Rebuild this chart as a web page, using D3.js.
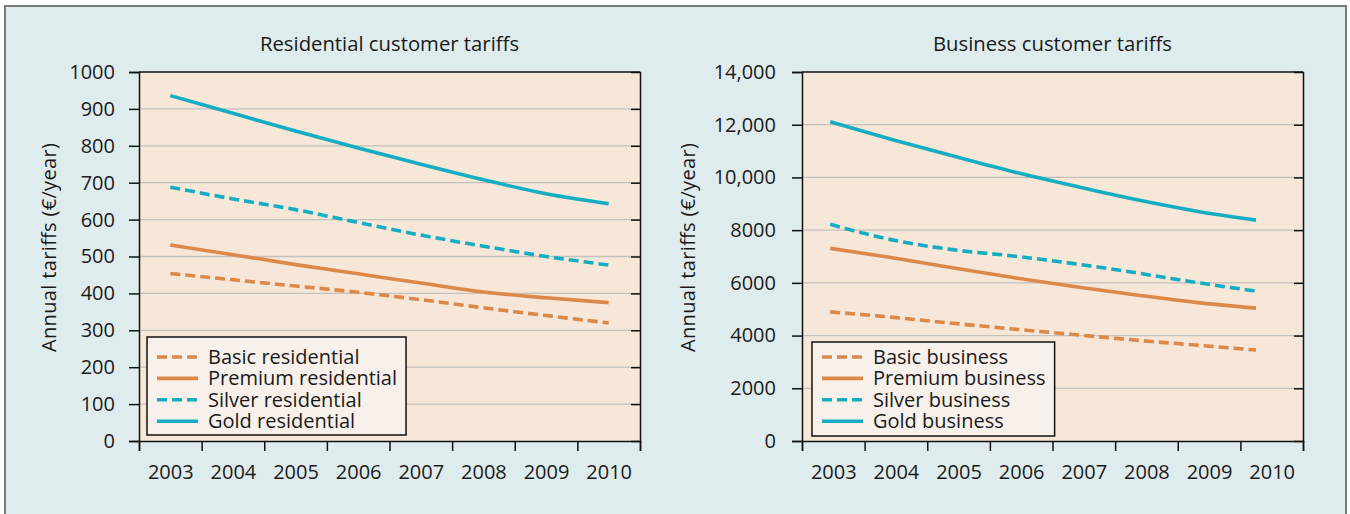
<!DOCTYPE html>
<html>
<head>
<meta charset="utf-8">
<script src="https://cdn.jsdelivr.net/npm/d3@7"></script>
<style>
  body { margin: 0; background: #fff; }
  svg { display: block; font-family: "Open Sans", sans-serif; }
</style>
</head>
<body>
<svg id="main" width="1350" height="514"></svg>
<script>
// tick labels
var years = [2003, 2004, 2005, 2006, 2007, 2008, 2009, 2010]
var yearEdges = [2002.5, 2003.5, 2004.5, 2005.5, 2006.5, 2007.5, 2008.5, 2009.5, 2010.5]
var resTicks = [0, 100, 200, 300, 400, 500, 600, 700, 800, 900, 1000]
var bizTicks = [0, 2000, 4000, 6000, 8000, 10000, 12000, 14000]

// x positions of the points (business lines stop short of 2010)
var resYears = [2003, 2004, 2005, 2006, 2007, 2008, 2009, 2010]
var bizYears = [2002.95, 2003.92, 2004.9, 2005.87, 2006.84, 2007.81, 2008.78, 2009.75]

// residential tariffs, euro/year
var basicRes = [454, 437, 420, 403, 383, 361, 340, 320]
var premiumRes = [531, 505, 478, 453, 428, 404, 388, 375]
var silverRes = [688, 656, 627, 592, 558, 528, 500, 477]
var goldRes = [936, 888, 840, 794, 750, 708, 670, 643]

// business tariffs, euro/year
var basicBiz = [4900, 4700, 4470, 4250, 4040, 3830, 3640, 3450]
var premiumBiz = [7310, 6960, 6570, 6200, 5860, 5550, 5260, 5040]
var silverBiz = [8220, 7640, 7260, 7020, 6730, 6390, 6020, 5690]
var goldBiz = [12110, 11450, 10820, 10220, 9680, 9170, 8730, 8380]

var ORANGE = "#dc8849"
var TEAL = "#15adc2"
var INK = "#1a1a1a"

var svg = d3.select("#main")

// outer panel
svg.append("rect").attr("x", 5).attr("y", 6).attr("width", 1341).attr("height", 520)
    .attr("fill", "#dfeced").attr("stroke", "#7a7a7a").attr("stroke-width", 2)

function drawChart(opt) {
    var w = opt.width, h = 369
    var g = svg.append("g").attr("transform", "translate(" + opt.left + "," + opt.top + ")")
    var x = d3.scaleLinear().domain([2002.5, 2010.5]).range([0, w])
    var y = d3.scaleLinear().domain([0, opt.max]).range([h, 0])

    g.append("rect").attr("width", w).attr("height", h).attr("fill", "#f7e7d9")

    // gridlines
    g.selectAll(".grid").data(opt.ticks.slice(1, -1)).enter().append("line")
        .attr("x1", 0).attr("x2", w)
        .attr("y1", function(d) { return y(d) }).attr("y2", function(d) { return y(d) })
        .attr("stroke", "#c4c0bc").attr("stroke-width", 1.3)

    // frame top
    g.append("line").attr("x1", 0).attr("x2", w).attr("y1", 0).attr("y2", 0)
        .attr("stroke", "#111").attr("stroke-width", 1.5)

    var yl = g.append("g").call(d3.axisLeft(y).tickValues(opt.ticks).tickSize(10).tickPadding(opt.pad)
        .tickFormat(opt.fmt))
    var yr = g.append("g").attr("transform", "translate(" + w + ",0)")
        .call(d3.axisRight(y).tickValues(opt.ticks).tickSize(-9).tickFormat(""))
    var xb = g.append("g").attr("transform", "translate(0," + h + ")")
        .call(d3.axisBottom(x).tickValues(yearEdges).tickSize(10).tickFormat(""))
    var xl = g.append("g").attr("transform", "translate(0," + h + ")")
        .call(d3.axisBottom(x).tickValues(years).tickSize(0).tickPadding(24).tickFormat(d3.format("d")))
    xl.select(".domain").remove()
    ;[yl, yr, xb, xl].forEach(function(a) {
        a.selectAll("path,line").attr("stroke", "#111").attr("stroke-width", 1.5)
        a.selectAll("text").attr("fill", INK).style("font-size", "20px")
            .style("font-family", '"Open Sans", sans-serif')
    })
    yr.selectAll(".tick").filter(function(d) { return d == 0 || d == opt.max }).remove()

    // lines
    var line = d3.line()
        .x(function(d) { return x(d[0]) })
        .y(function(d) { return y(d[1]) })
        .curve(d3.curveMonotoneX)
    opt.series.forEach(function(s) {
        g.append("path").datum(d3.zip(opt.xs, s.values))
            .attr("d", line).attr("fill", "none")
            .attr("stroke", s.color).attr("stroke-width", 3.6)
            .attr("stroke-dasharray", s.dash ? "10,5" : null)
    })

    // titles
    g.append("text").attr("x", w / 2).attr("y", -21).attr("text-anchor", "middle")
        .attr("fill", INK).style("font-size", "20.3px").text(opt.title)
    g.append("text").attr("transform", "translate(" + opt.ylabX + "," + (h / 2 - 9) + ") rotate(-90)")
        .attr("text-anchor", "middle").attr("fill", INK).style("font-size", "20px")
        .attr("textLength", 209).attr("lengthAdjust", "spacing")
        .text("Annual tariffs (€/year)")

    // legend
    var lg = g.append("g").attr("transform", "translate(" + opt.legX + "," + opt.legY + ")")
    var box = lg.append("rect").attr("fill", "#f8f0ea").attr("stroke", "#111").attr("stroke-width", 1.5)
    var maxW = 0
    opt.series.forEach(function(s, i) {
        var yy = 285 - opt.legY + i * 21.4
        lg.append("line").attr("x1", 10).attr("x2", 51).attr("y1", yy).attr("y2", yy)
            .attr("stroke", s.color).attr("stroke-width", 3.6)
            .attr("stroke-dasharray", s.dash ? "10,5" : null)
        var t = lg.append("text").attr("x", 61).attr("y", yy + 7).attr("fill", INK)
            .style("font-size", "20px").text(s.name)
        maxW = Math.max(maxW, t.node().getComputedTextLength())
    })
    box.attr("width", 61 + maxW + 9).attr("height", opt.legH)
}

drawChart({
    left: 139, top: 72, width: 501, max: 1000, ticks: resTicks, fmt: d3.format("d"), pad: 14,
    title: "Residential customer tariffs", ylabX: -83,
    legX: 8, legY: 265, legH: 98, xs: resYears,
    series: [
        { name: "Basic residential", values: basicRes, color: ORANGE, dash: true },
        { name: "Premium residential", values: premiumRes, color: ORANGE, dash: false },
        { name: "Silver residential", values: silverRes, color: TEAL, dash: true },
        { name: "Gold residential", values: goldRes, color: TEAL, dash: false }
    ]
})

drawChart({
    left: 802, top: 72, width: 501, max: 14000, ticks: bizTicks, pad: 16,
    fmt: function(d) { return d >= 10000 ? d3.format(",")(d) : d3.format("d")(d) },
    title: "Business customer tariffs", ylabX: -107,
    legX: 10, legY: 270, legH: 94, xs: bizYears,
    series: [
        { name: "Basic business", values: basicBiz, color: ORANGE, dash: true },
        { name: "Premium business", values: premiumBiz, color: ORANGE, dash: false },
        { name: "Silver business", values: silverBiz, color: TEAL, dash: true },
        { name: "Gold business", values: goldBiz, color: TEAL, dash: false }
    ]
})
</script>
</body>
</html>
